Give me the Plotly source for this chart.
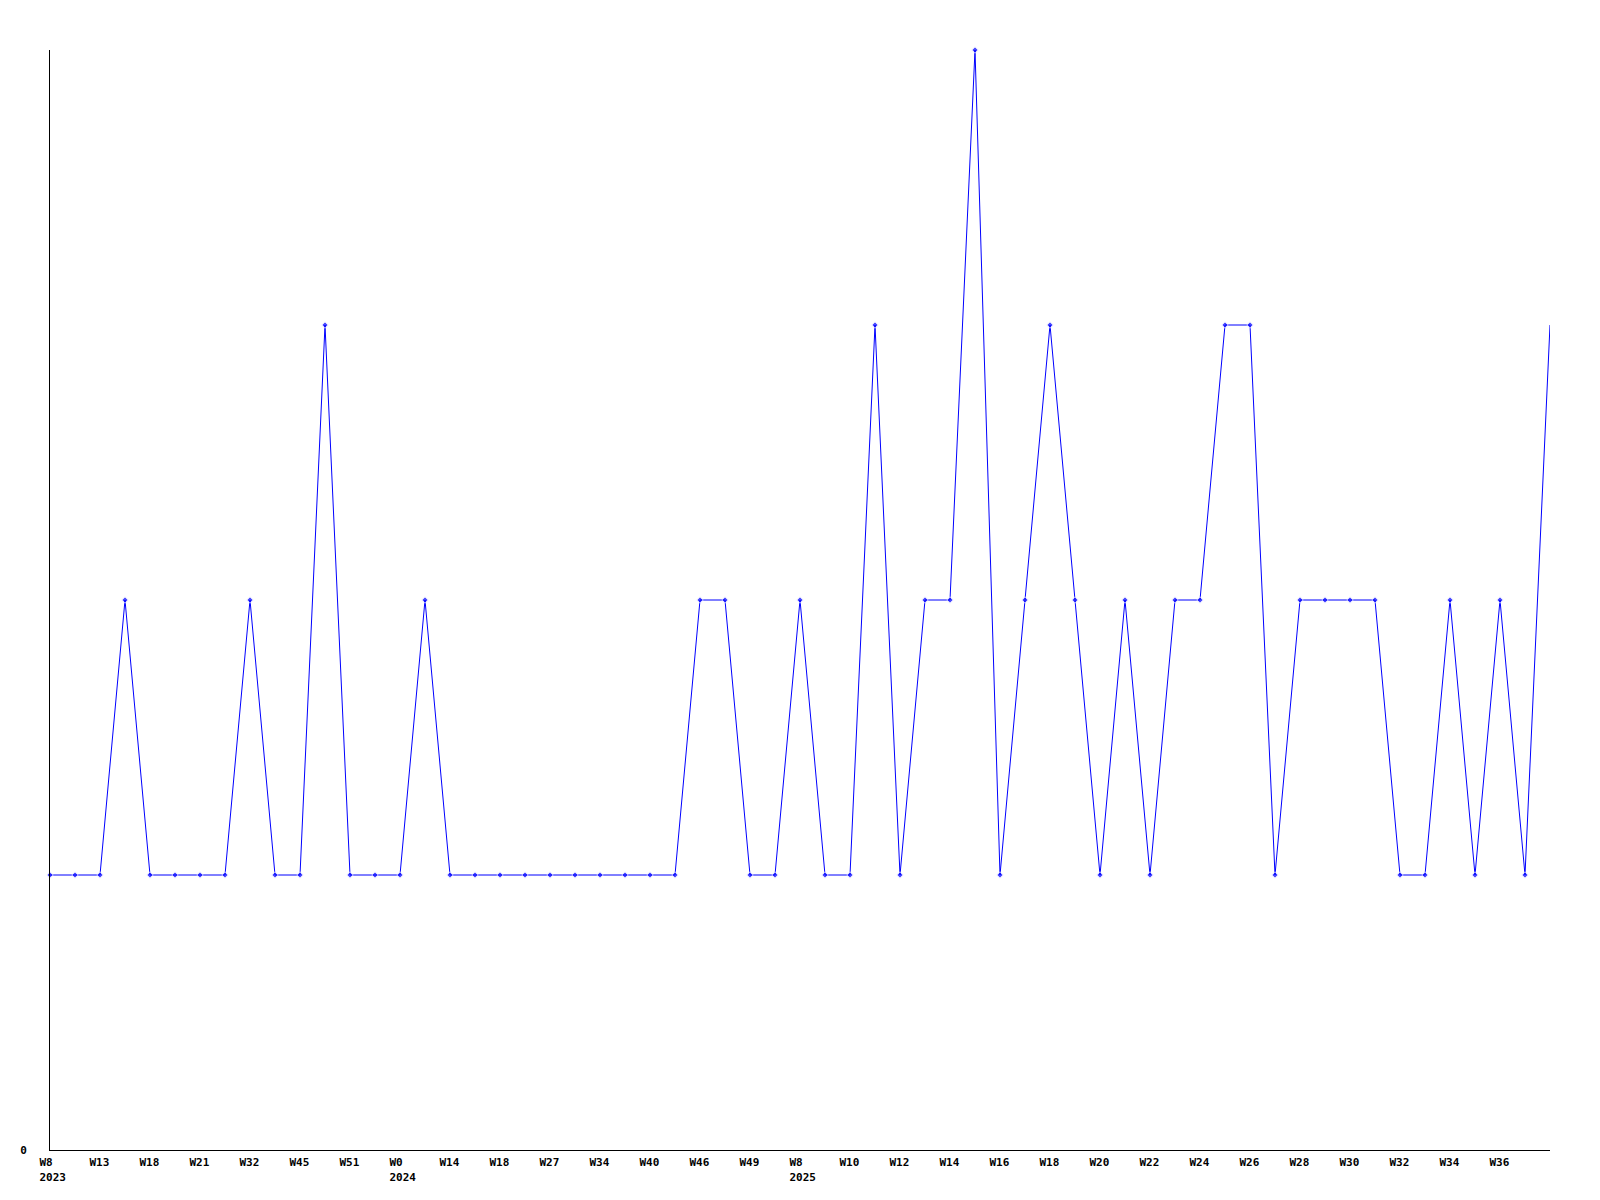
import plotly.graph_objects as go

# weekly counts, one point per week
values = [1, 1, 1, 2, 1, 1, 1, 1, 2, 1,
          1, 3, 1, 1, 1, 2, 1, 1, 1, 1,
          1, 1, 1, 1, 1, 1, 2, 2, 1, 1,
          2, 1, 1, 3, 1, 2, 2, 4, 1, 2,
          3, 2, 1, 2, 1, 2, 2, 3, 3, 1,
          2, 2, 2, 2, 1, 1, 2, 1, 2, 1,
          3]

# labels shown on every second point
tick_labels = ["W8<br>2023", "W13", "W18", "W21", "W32", "W45", "W51", "W0<br>2024",
               "W14", "W18", "W27", "W34", "W40", "W46", "W49", "W8<br>2025",
               "W10", "W12", "W14", "W16", "W18", "W20", "W22", "W24",
               "W26", "W28", "W30", "W32", "W34", "W36"]

x = list(range(len(values)))
tick_pos = x[::2][:len(tick_labels)]
marker_sizes = [5] * (len(values) - 1) + [0]

font = dict(family="DejaVu Sans Mono", size=11, color="black", weight="bold")

fig = go.Figure()
fig.add_trace(go.Scatter(x=x, y=values, mode='lines+markers', cliponaxis=False,
                         line=dict(color='#0000ff', width=1),
                         marker=dict(symbol='diamond', size=marker_sizes, color='#0000ff')))
# page body has an 8px margin, so offset the plot area to land at 50px
fig.update_layout(width=1600, height=1200, plot_bgcolor='white', paper_bgcolor='white',
                  margin=dict(l=42, r=58, t=42, b=58), showlegend=False)
fig.update_xaxes(range=[0, 60], tickvals=tick_pos, ticktext=tick_labels, showgrid=False,
                 zeroline=False, showline=True, linecolor='black', linewidth=1, automargin=False,
                 ticklabelposition='outside right', ticklabelshift=-11, ticklabelstandoff=2,
                 tickfont=font)
fig.update_yaxes(range=[0, 4], tickvals=[0], ticktext=["0"], showgrid=False, zeroline=False,
                 showline=True, linecolor='black', linewidth=1, automargin=False,
                 ticklabelstandoff=20, tickfont=font)
fig.write_html("out.html")
